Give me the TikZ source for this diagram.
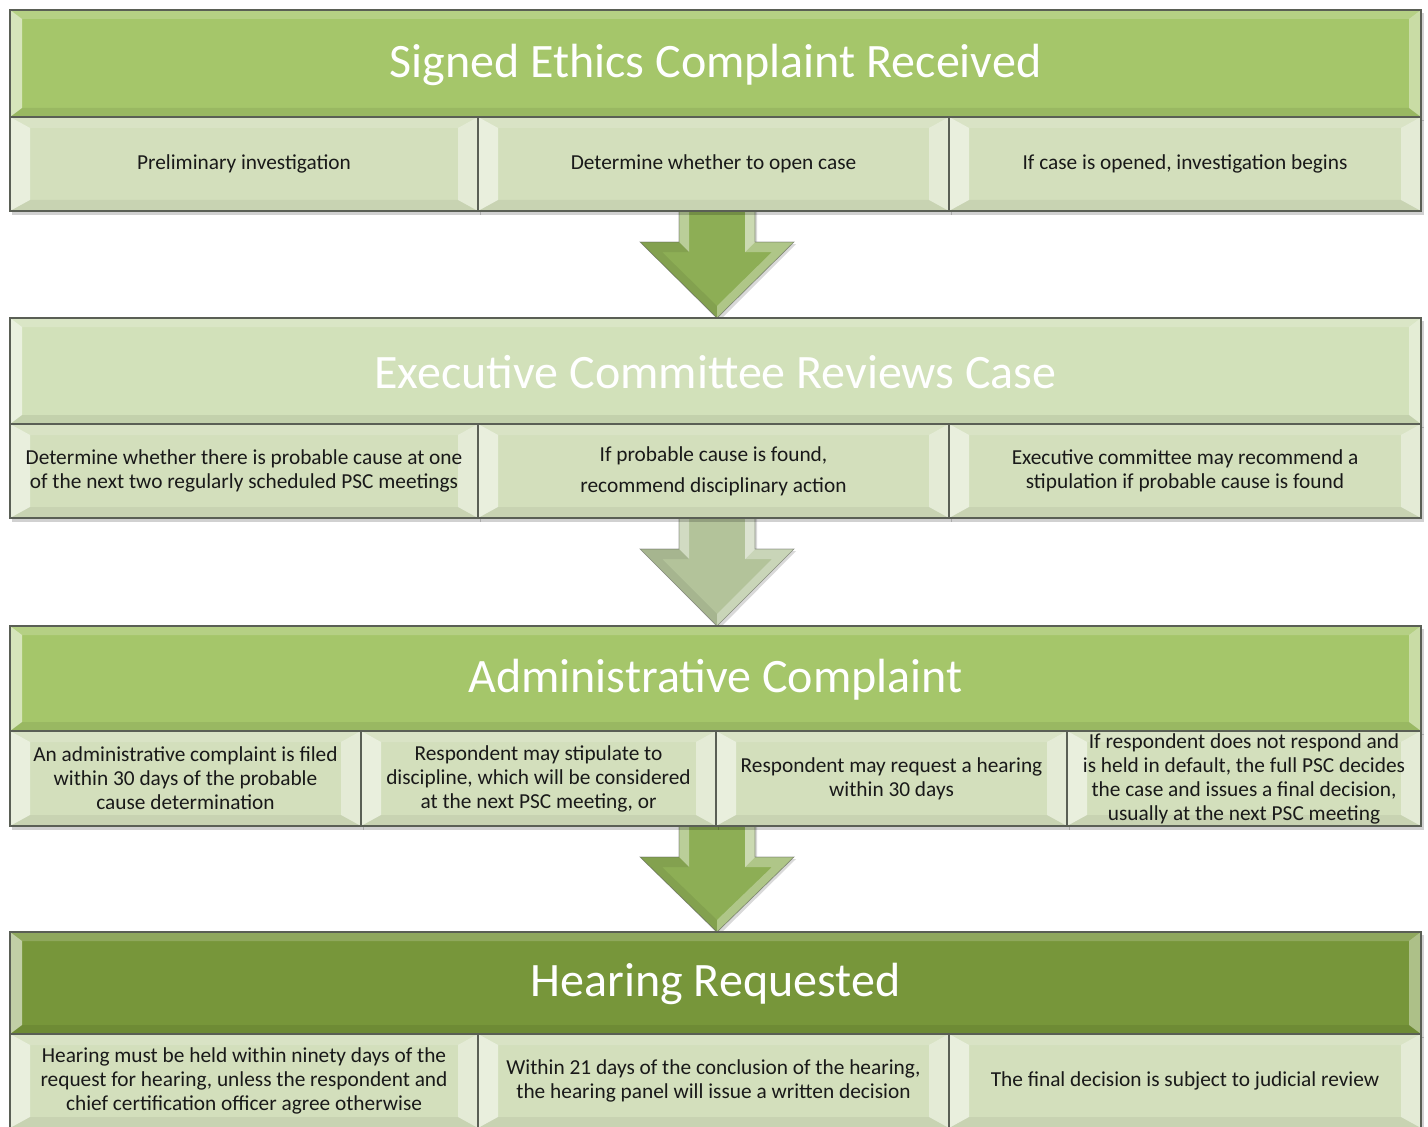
\documentclass[tikz,border=0pt]{standalone}
\usepackage{fontspec}
\setmainfont{Carlito}
\definecolor{hdrA}{HTML}{A5C66A}
\definecolor{hdrB}{HTML}{D2E1BA}
\definecolor{hdrD}{HTML}{77963A}
\definecolor{subF}{HTML}{D3DFBC}
\definecolor{arrA}{HTML}{8DAE55}
\definecolor{arrB}{HTML}{B3C39A}
\definecolor{edgeC}{HTML}{5A5F55}
\tikzset{
  subtxt/.style={font=\fontsize{16}{18}\selectfont, align=center, text=black!90, inner sep=0pt},
  subtxtwide/.style={font=\fontsize{16}{23.5}\selectfont, align=center, text=black!90, inner sep=0pt},
  titletxt/.style={font=\fontsize{36}{40}\selectfont, text=white, inner sep=0pt},
  boxedge/.style={draw=edgeC, line width=0.8pt},
}
% header box: name, x1, y1, x2, y2, fill, text
\newcommand\hdrbox[7]{%
  \fill[black,opacity=0.18] (#2+2,#3+3) rectangle (#4+3,#5+4);
  \fill[#6] (#2,#3) rectangle (#4,#5);
  \fill[white,opacity=0.18] (#2,#3) -- (#4,#3) -- (#4-12,#3+9) -- (#2+12,#3+9) -- cycle;
  \fill[white,opacity=0.55] (#2,#3) -- (#2+12,#3+9) -- (#2+12,#5-9) -- (#2,#5) -- cycle;
  \fill[white,opacity=0.40] (#4,#3) -- (#4-12,#3+9) -- (#4-12,#5-9) -- (#4,#5) -- cycle;
  \fill[black,opacity=0.07] (#2,#5) -- (#2+12,#5-9) -- (#4-12,#5-9) -- (#4,#5) -- cycle;
  \draw[boxedge] (#2,#3) rectangle (#4,#5);
  \node[titletxt] (#1) at ({(#2+#4)/2},{(#3+#5)/2+1}) {#7};
}
% sub box: name, x1, y1, x2, y2, style, text
\newcommand\subbox[7]{%
  \fill[black,opacity=0.18] (#2+2,#3+3) rectangle (#4+3,#5+4);
  \fill[subF] (#2,#3) rectangle (#4,#5);
  \fill[white,opacity=0.15] (#2,#3) -- (#4,#3) -- (#4-20,#3+11) -- (#2+20,#3+11) -- cycle;
  \fill[white,opacity=0.50] (#2,#3) -- (#2+20,#3+11) -- (#2+20,#5-11) -- (#2,#5) -- cycle;
  \fill[white,opacity=0.40] (#4,#3) -- (#4-20,#3+11) -- (#4-20,#5-11) -- (#4,#5) -- cycle;
  \fill[black,opacity=0.05] (#2,#5) -- (#2+20,#5-11) -- (#4-20,#5-11) -- (#4,#5) -- cycle;
  \draw[boxedge] (#2,#3) rectangle (#4,#5);
  \node[#6] (#1) at ({(#2+#4)/2},{(#3+#5)/2}) {#7};
}
% down arrow: name, top, head y, tip y, colour
\newcommand\flowarrow[5]{%
  \coordinate (#1) at (717,#4);
  \fill[black,opacity=0.15] (681,#2) -- (757,#2) -- (757,#3+2) -- (796,#3+2) -- (719,#4+3) -- (642,#3+2) -- (681,#3+2) -- cycle;
  \fill[#5] (679,#2) -- (755,#2) -- (755,#3) -- (794,#3) -- (717,#4) -- (640,#3) -- (679,#3) -- cycle;
  \fill[white,opacity=0.40] (679,#2) -- (689,#2) -- (689,#3+10) -- (679,#3) -- cycle;
  \fill[white,opacity=0.55] (755,#2) -- (745,#2) -- (745,#3+10) -- (755,#3) -- cycle;
  \fill[black,opacity=0.07] (640,#3) -- (679,#3) -- (689,#3+10) -- (662,#3+10) -- (717,#4-12) -- (717,#4) -- cycle;
  \fill[white,opacity=0.30] (794,#3) -- (755,#3) -- (745,#3+10) -- (772,#3+10) -- (717,#4-12) -- (717,#4) -- cycle;
  \draw[edgeC,line width=0.5pt,opacity=0.6] (679,#2) -- (679,#3) -- (640,#3) -- (717,#4) -- (794,#3) -- (755,#3) -- (755,#2);
}
\begin{document}
\begin{tikzpicture}[x=0.75pt,y=-0.75pt]
\useasboundingbox (0,0) rectangle (1428,1127);
\fill[white] (0,0) rectangle (1428,1127);

% arrows (drawn first, partly hidden under the bands)
\flowarrow{ar1}{200}{242}{318}{arrA}
\flowarrow{ar2}{508}{549}{626}{arrB}
\flowarrow{ar3}{816}{857}{932}{arrA}

% band 1
\hdrbox{h1}{10}{10}{1421}{117}{hdrA}{Signed Ethics Complaint Received}
\subbox{s11}{10}{117}{478}{211}{subtxt}{Preliminary investigation}
\subbox{s12}{478}{117}{949}{211}{subtxt}{Determine whether to open case}
\subbox{s13}{949}{117}{1421}{211}{subtxt}{If case is opened, investigation begins}

% band 2
\hdrbox{h2}{10}{318}{1421}{424}{hdrB}{Executive Committee Reviews Case}
\subbox{s21}{10}{424}{478}{518}{subtxt}{Determine whether there is probable cause at one\\of the next two regularly scheduled PSC meetings}
\subbox{s22}{478}{424}{949}{518}{subtxtwide}{If probable cause is found,\\recommend disciplinary action}
\subbox{s23}{949}{424}{1421}{518}{subtxt}{Executive committee may recommend a\\stipulation if probable cause is found}

% band 3
\hdrbox{h3}{10}{626}{1421}{731}{hdrA}{Administrative Complaint}
\subbox{s31}{10}{731}{361}{826}{subtxt}{An administrative complaint is filed\\within 30 days of the probable\\cause determination}
\subbox{s32}{361}{731}{716}{826}{subtxt}{Respondent may stipulate to\\discipline, which will be considered\\at the next PSC meeting, or}
\subbox{s33}{716}{731}{1067}{826}{subtxt}{Respondent may request a hearing\\within 30 days}
\subbox{s34}{1067}{731}{1421}{826}{subtxt}{If respondent does not respond and\\is held in default, the full PSC decides\\the case and issues a final decision,\\usually at the next PSC meeting}

% band 4
\hdrbox{h4}{10}{932}{1421}{1034}{hdrD}{Hearing Requested}
\subbox{s41}{10}{1034}{478}{1128}{subtxt}{Hearing must be held within ninety days of the\\request for hearing, unless the respondent and\\chief certification officer agree otherwise}
\subbox{s42}{478}{1034}{949}{1128}{subtxt}{Within 21 days of the conclusion of the hearing,\\the hearing panel will issue a written decision}
\subbox{s43}{949}{1034}{1421}{1128}{subtxt}{The final decision is subject to judicial review}
\end{tikzpicture}
\end{document}
